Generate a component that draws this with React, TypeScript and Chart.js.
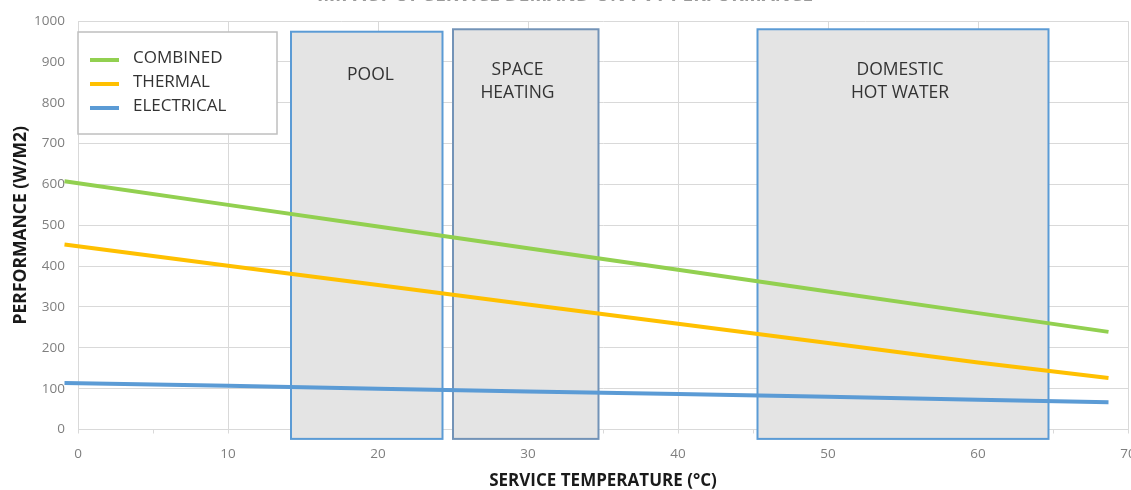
import React, { useEffect, useRef } from "react";
import { Chart, registerables } from "chart.js";

Chart.register(...registerables);

// ---- data ----
const temperatures = [-0.9, 10, 20, 30, 40, 50, 60, 68.7];
const combined = [608, 550, 497, 444, 391, 338, 285, 239];
const thermal = [453, 401, 354, 306, 259, 212, 164, 126];
const electrical = [114, 107, 100, 93, 87, 80, 73, 67];
const seriesNames = ["COMBINED", "THERMAL", "ELECTRICAL"];
const seriesColors = ["#92d050", "#ffc000", "#5b9bd5"];

const zoneNames = [["POOL"], ["SPACE", "HEATING"], ["DOMESTIC", "HOT WATER"]];
const zoneStart = [14.2, 25.0, 45.3];
const zoneEnd = [24.3, 34.7, 64.7];
const zoneTop = [974, 980, 980];
const zoneBottom = [-23, -23, -23];
const zoneLabelX = [19.5, 29.3, 54.8];
const zoneLabelY = [[867], [880, 824], [880, 824]];
const zoneBorder = ["#5b9bd5", "#7393b7", "#5b9bd5"];

const chartTitle = "IMPACT OF SERVICE DEMAND ON PVT PERFORMANCE";
const xTitle = "SERVICE TEMPERATURE (°C)";
const yTitle = "PERFORMANCE (W/M2)";

const GRID = "#d9d9d9";
const FONT = '"Open Sans", "Noto Sans", sans-serif';

const zonesPlugin = {
  id: "zones",
  beforeDatasetsDraw(chart: any) {
    const { ctx, scales } = chart;
    const x = scales.x;
    const y = scales.y;
    ctx.save();
    for (let i = 0; i < zoneNames.length; i++) {
      const l = x.getPixelForValue(zoneStart[i]);
      const r = x.getPixelForValue(zoneEnd[i]);
      const t = y.getPixelForValue(zoneTop[i]);
      const b = y.getPixelForValue(zoneBottom[i]);
      ctx.fillStyle = "#e4e4e4";
      ctx.fillRect(l, t, r - l, b - t);
      ctx.strokeStyle = zoneBorder[i];
      ctx.lineWidth = 2;
      ctx.strokeRect(l, t, r - l, b - t);
      ctx.fillStyle = "#333333";
      ctx.font = `17.5px ${FONT}`;
      ctx.textAlign = "center";
      ctx.textBaseline = "middle";
      zoneNames[i].forEach((line, j) => {
        ctx.fillText(line, x.getPixelForValue(zoneLabelX[i]), y.getPixelForValue(zoneLabelY[i][j]));
      });
    }
    ctx.restore();
  },
};

const overlayPlugin = {
  id: "overlay",
  afterDatasetsDraw(chart: any) {
    const { ctx } = chart;
    ctx.save();
    // legend box
    ctx.fillStyle = "#ffffff";
    ctx.fillRect(78, 32, 199, 102);
    ctx.strokeStyle = "#bfbfbf";
    ctx.lineWidth = 1.5;
    ctx.strokeRect(78, 32, 199, 102);
    const rows = [58, 82, 106];
    seriesNames.forEach((name, i) => {
      ctx.strokeStyle = seriesColors[i];
      ctx.lineWidth = 4;
      ctx.lineCap = "butt";
      ctx.beginPath();
      ctx.moveTo(90, rows[i] + 2);
      ctx.lineTo(119, rows[i] + 2);
      ctx.stroke();
      ctx.fillStyle = "#333333";
      ctx.font = `17px ${FONT}`;
      ctx.textAlign = "left";
      ctx.textBaseline = "middle";
      ctx.fillText(name, 133, rows[i]);
    });
    // chart title (cut off at top in the reference)
    ctx.fillStyle = "#9a9a9a";
    ctx.font = `bold 19px ${FONT}`;
    ctx.textAlign = "center";
    ctx.textBaseline = "alphabetic";
    ctx.fillText(chartTitle, 565, 0.8);
    ctx.restore();
  },
};

export default function App() {
  const ref = useRef<HTMLCanvasElement | null>(null);
  useEffect(() => {
    document.body.style.margin = "0";
    document.body.style.overflow = "hidden";
    if (!ref.current) return;
    const mk = (vals: number[]) => temperatures.map((t, i) => ({ x: t, y: vals[i] }));
    const chart = new Chart(ref.current, {
      type: "scatter",
      data: {
        datasets: [combined, thermal, electrical].map((vals, i) => ({
          label: seriesNames[i],
          data: mk(vals),
          showLine: true,
          borderColor: seriesColors[i],
          backgroundColor: seriesColors[i],
          borderWidth: 4,
          pointRadius: 0,
          clip: false as any,
        })),
      },
      options: {
        animation: false,
        responsive: false,
        layout: { padding: { left: 0, right: 32, top: 18.5, bottom: 0 } },
        plugins: { legend: { display: false }, tooltip: { enabled: false }, title: { display: false } },
        scales: {
          x: {
            type: "linear",
            min: 0,
            max: 70,
            afterFit(scale: any) {
              scale.height = 60.5;
            },
            ticks: {
              stepSize: 5,
              padding: 13,
              color: "#7f7f7f",
              font: { family: FONT, size: 13.5 },
              callback: (v: any) => (Number(v) % 10 === 0 ? String(v) : ""),
              maxRotation: 0,
              autoSkip: false,
            },
            grid: {
              color: (c: any) => (c.tick && Number(c.tick.value) % 10 === 0 ? GRID : "rgba(0,0,0,0)"),
              tickColor: GRID,
              tickLength: 4,
              lineWidth: 1,
            },
            border: { color: GRID },
            title: {
              display: true,
              text: xTitle,
              color: "#1a1a1a",
              font: { family: FONT, size: 17, weight: "bold", lineHeight: 1 },
              padding: { top: 0, bottom: 0 },
            },
          },
          y: {
            type: "linear",
            min: 0,
            max: 1000,
            afterFit(scale: any) {
              scale.width = 78;
            },
            ticks: {
              stepSize: 100,
              padding: 13,
              color: "#7f7f7f",
              font: { family: FONT, size: 13.5 },
              callback: (v: any) => String(v),
            },
            grid: { color: GRID, drawTicks: false },
            border: { color: GRID },
            title: {
              display: true,
              text: yTitle,
              color: "#1a1a1a",
              font: { family: FONT, size: 17.5, weight: "bold", lineHeight: 1.2 },
              padding: { top: 11, bottom: 0 },
            },
          },
        },
      },
      plugins: [zonesPlugin, overlayPlugin],
    });
    return () => chart.destroy();
  }, []);
  return (
    <div style={{ position: "relative", width: 1131, height: 490, overflow: "hidden", background: "#fff" }}>
      <canvas ref={ref} width={1160} height={490} style={{ position: "absolute", left: 0, top: 0 }} />
    </div>
  );
}
